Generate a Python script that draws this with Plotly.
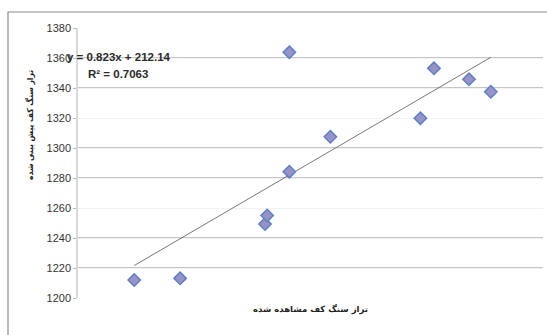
import plotly.graph_objects as go

# observed vs. predicted bedrock level
observed = [1226.6, 1248.3, 1288.5, 1289.5, 1300.0, 1300.0, 1319.4, 1362.0, 1368.4, 1385.0, 1395.3]
predicted = [1212.0, 1213.1, 1249.3, 1255.0, 1284.2, 1363.8, 1307.5, 1319.8, 1353.1, 1345.8, 1337.5]

slope = 0.823
intercept = 212.14
r_squared = 0.7063

y_ticks = [1200, 1220, 1240, 1260, 1280, 1300, 1320, 1340, 1360, 1380]
grid_drawn = [1220, 1240, 1280, 1300, 1340, 1360]

x_title = "تراز سنگ کف مشاهده شده"
y_title = "تراز سنگ کف پیش بینی شده"

x_lo, x_hi = min(observed), max(observed)

fig = go.Figure()

fig.add_trace(go.Scatter(
    x=[x_lo, x_hi],
    y=[slope * x_lo + intercept, slope * x_hi + intercept],
    mode="lines",
    line=dict(color="#555555", width=0.8),
    hoverinfo="skip",
))

fig.add_trace(go.Scatter(
    x=observed, y=predicted, mode="markers",
    marker=dict(symbol="diamond", size=9.5, color="#9a92c6",
                line=dict(color="#5b80c8", width=1.5)),
))

shapes = [
    dict(type="line", xref="paper", yref="y", x0=-0.005, x1=1, y0=g, y1=g,
         line=dict(color="#8c8c8c", width=1), layer="below")
    for g in grid_drawn
]
# chart frame
shapes.append(dict(type="rect", xref="paper", yref="paper",
                   x0=(8 - 78) / 465, x1=1.02, y0=-0.2, y1=(298 - 12) / 270,
                   line=dict(color="#8a8a8a", width=1.2), fillcolor="rgba(0,0,0,0)"))

fig.update_layout(
    width=547, height=335,
    margin=dict(l=78, r=4, t=28, b=37),
    paper_bgcolor="white", plot_bgcolor="white",
    showlegend=False,
    shapes=shapes,
    xaxis=dict(range=[1200, 1420], showticklabels=False, showgrid=False,
               zeroline=False, showline=False, ticks=""),
    yaxis=dict(range=[1200, 1380], tickvals=y_ticks, showgrid=True,
               gridcolor="#f2f2f2", zeroline=False,
               showline=True, linecolor="#d9d9d9", linewidth=1.5,
               ticks="outside", ticklen=3, tickcolor="#bbbbbb",
               tickfont=dict(family="Liberation Sans", size=11, color="#333333")),
    annotations=[
        dict(text=f"<b>y = {slope}x + {intercept}</b>", xref="paper", yref="paper",
             x=(65 - 78) / 465, y=(298 - 57) / 270, xanchor="left", yanchor="middle",
             showarrow=False,
             font=dict(family="Liberation Sans Narrow, Liberation Sans", size=11.5,
                       color="#2a2a2a")),
        dict(text=f"<b>R² = {r_squared}</b>", xref="paper", yref="paper",
             x=(86 - 78) / 465, y=(298 - 74) / 270, xanchor="left", yanchor="middle",
             showarrow=False,
             font=dict(family="Liberation Sans Narrow, Liberation Sans", size=11.5,
                       color="#2a2a2a")),
        dict(text=f"<b>{x_title}</b>", xref="paper", yref="paper",
             x=0.5, y=(298 - 309) / 270, xanchor="center", yanchor="middle",
             showarrow=False,
             font=dict(family="DejaVu Sans", size=8.5, color="#222222")),
        dict(text=f"<b>{y_title}</b>", xref="paper", yref="paper",
             x=(30 - 78) / 465, y=(298 - 125) / 270, xanchor="center", yanchor="middle",
             textangle=-90, showarrow=False,
             font=dict(family="DejaVu Sans Condensed, DejaVu Sans", size=8.5,
                       color="#222222")),
    ],
)

fig.write_html("out.html")
